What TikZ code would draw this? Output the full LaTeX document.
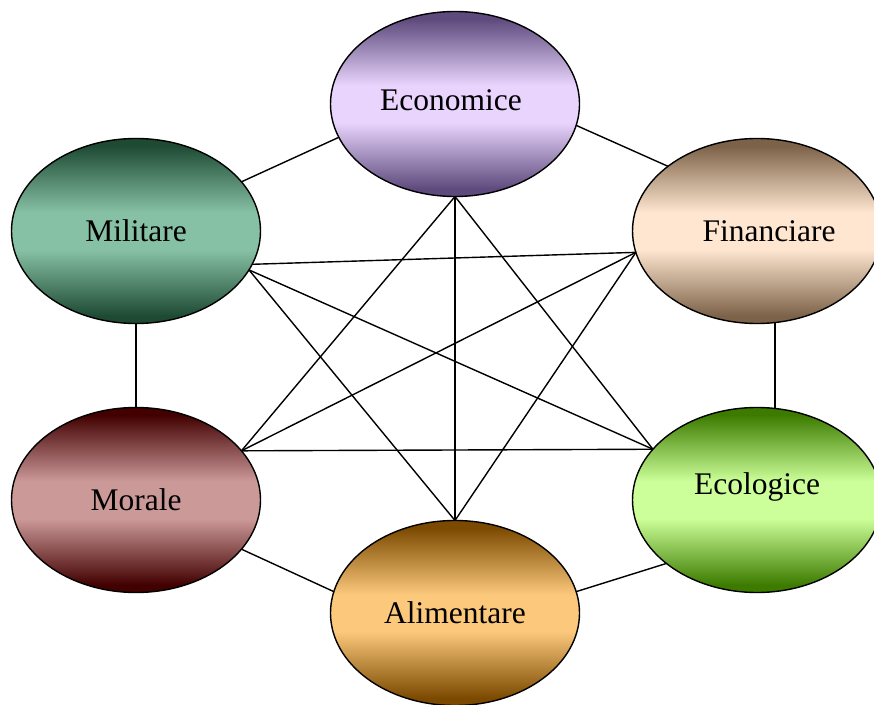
\documentclass[tikz,border=0pt]{standalone}
\usepackage{fontspec}
\setmainfont{Liberation Serif}
\usetikzlibrary{shapes.geometric}

\definecolor{ecoLo}{HTML}{5E4A7C}
\definecolor{ecoHi}{HTML}{E8D4FC}
\definecolor{milLo}{HTML}{1E4A34}
\definecolor{milHi}{HTML}{87C1A5}
\definecolor{finLo}{HTML}{7B6248}
\definecolor{finHi}{HTML}{FFE6D0}
\definecolor{morLo}{HTML}{420000}
\definecolor{morHi}{HTML}{CC9999}
\definecolor{ecolLo}{HTML}{3C7B00}
\definecolor{ecolHi}{HTML}{CCFF99}
\definecolor{aliLo}{HTML}{7B4A00}
\definecolor{aliHi}{HTML}{FBC87C}

\pgfdeclareverticalshading[lo,hi]{band}{100bp}{color(0bp)=(lo); color(27bp)=(lo); color(45bp)=(hi); color(55bp)=(hi); color(73bp)=(lo); color(100bp)=(lo)}

\tikzset{
  bandcols/.code 2 args={\colorlet{lo}{#1}\colorlet{hi}{#2}},
}
\tikzstyle{bubble} = [ellipse, draw=black, line width=1.4pt, minimum width=249pt, minimum height=185pt, inner sep=0pt, outer sep=0pt, shading=band, font=\fontsize{31.5}{36}\selectfont]
\tikzstyle{link} = [line width=1.4pt, black]

\begin{document}
\begin{tikzpicture}[x=1pt,y=1pt]
      \useasboundingbox (0,0) rectangle (874,704);
      % the six bubbles
      \node[bubble, bandcols={ecoLo}{ecoHi}] (eco) at (455,600) {\hspace*{-8pt}\raisebox{4pt}[\height][\depth]{Economice}};
      \node[bubble, bandcols={milLo}{milHi}] (mil) at (136,473) {Militare};
      \node[bubble, bandcols={finLo}{finHi}] (fin) at (757,473) {\hspace*{24pt}Financiare};
      \node[bubble, bandcols={morLo}{morHi}] (mor) at (136,204) {Morale};
      \node[bubble, bandcols={ecolLo}{ecolHi}] (ecol) at (757,204) {\raisebox{13pt}[\height][\depth]{Ecologice}};
      \node[bubble, bandcols={aliLo}{aliHi}] (ali) at (455,91) {Alimentare};
      % outer ring
      \draw[link] (eco.196) -- (mil.25);
      \draw[link] (eco.-10) -- (fin.144);
      \draw[link] (mil.south) -- (mor.north);
      \draw[link] (fin.-79.5) -- (ecol.79.5);
      \draw[link] (mor.-25) -- (ali.170);
      \draw[link] (ecol.215) -- (ali.10);
      % inner star
      \draw[link] (eco.south) -- (mor.25);
      \draw[link] (eco.south) -- (ecol.154);
      \draw[link] (eco.south) -- (ali.north);
      \draw[link] (mil.-16) -- (fin.190);
      \draw[link] (mil.-19) -- (ecol.154);
      \draw[link] (mil.-19) -- (ali.north);
      \draw[link] (fin.190) -- (mor.25);
      \draw[link] (fin.190) -- (ali.north);
      \draw[link] (mor.25) -- (ecol.154);
\end{tikzpicture}
\end{document}
